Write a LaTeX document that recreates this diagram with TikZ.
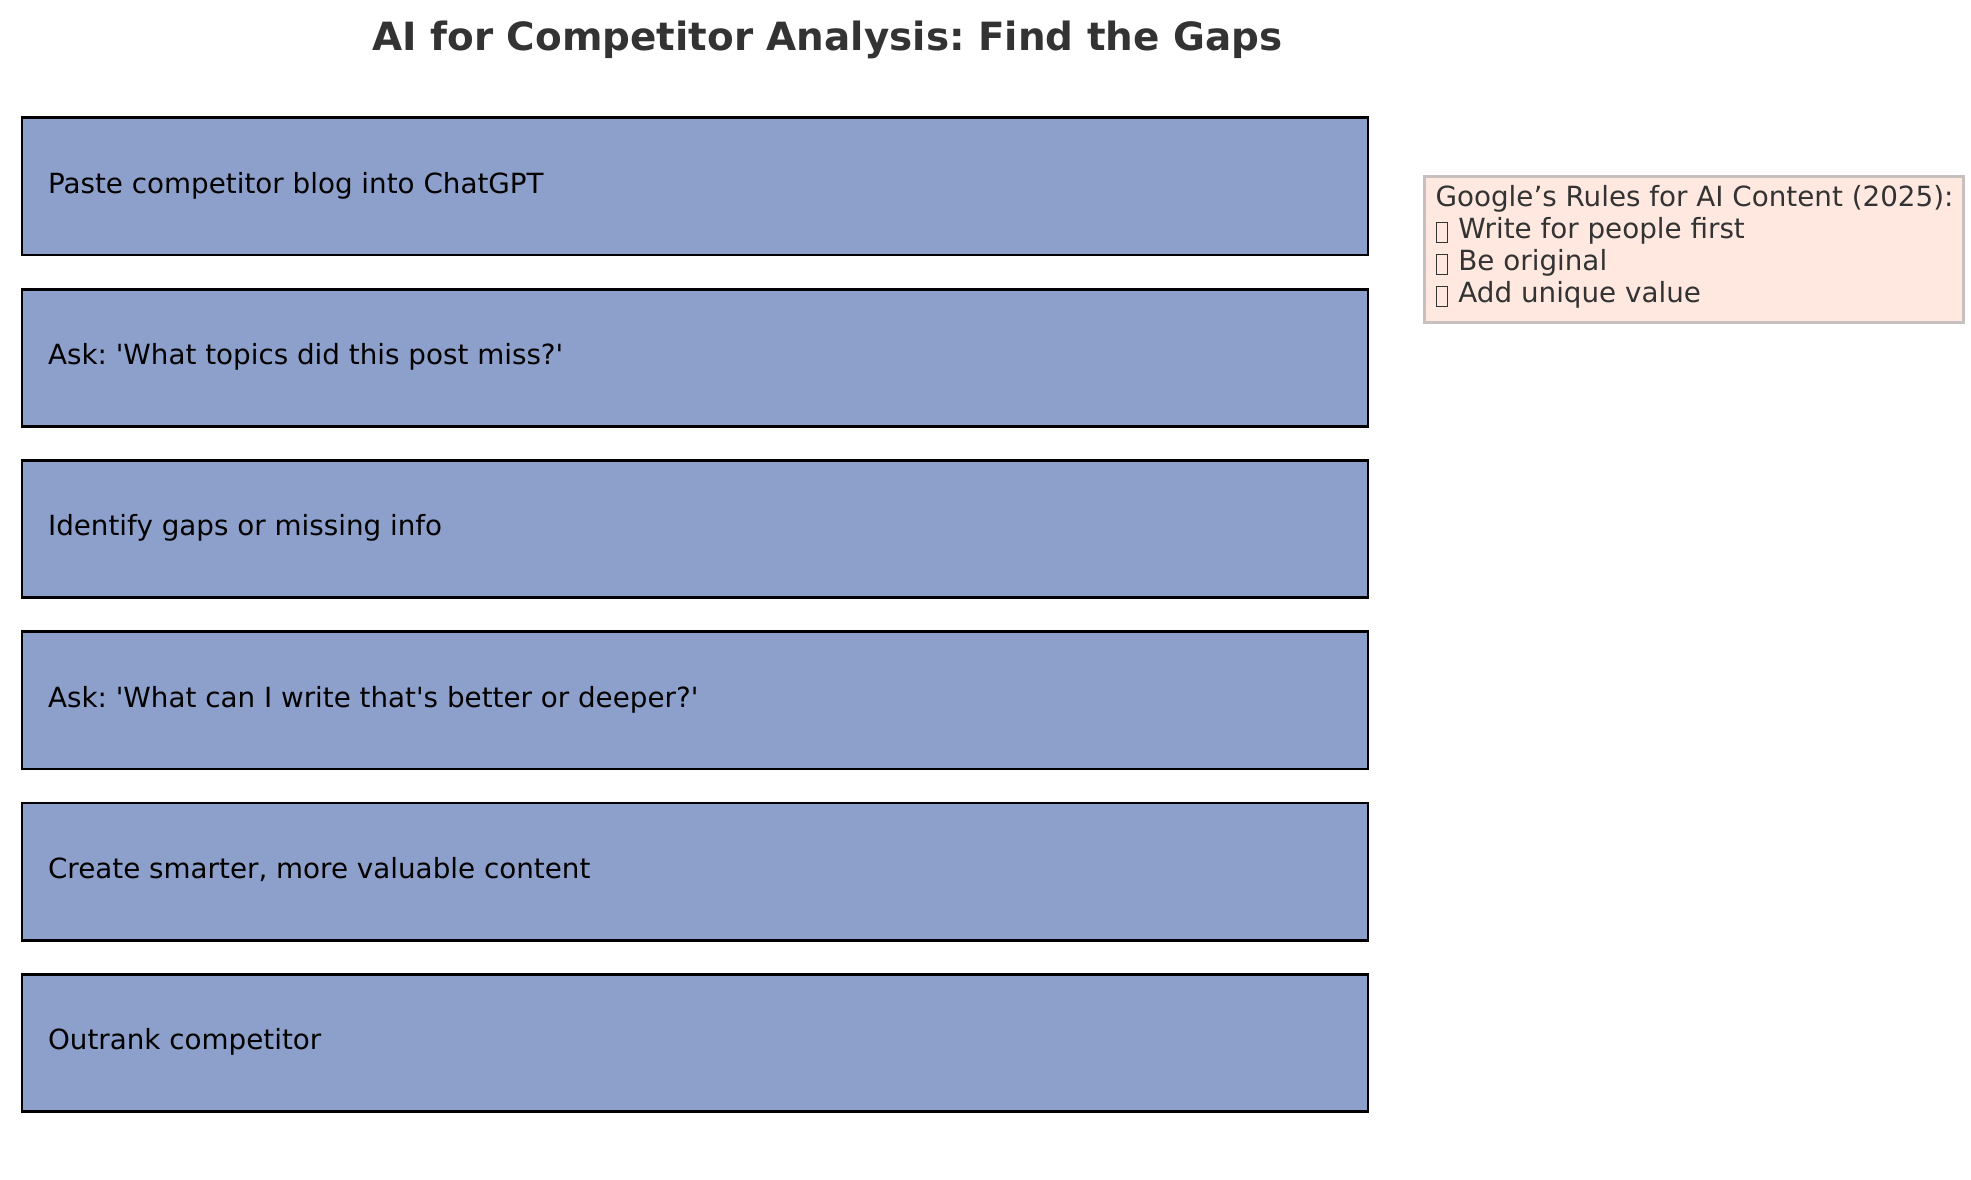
\documentclass[tikz,border=0pt]{standalone}
\usepackage{fontspec}
\setmainfont{DejaVu Sans}[Ligatures=TeXOff]
\frenchspacing
\definecolor{stepfill}{HTML}{8DA0CB}
\definecolor{notefill}{HTML}{FFE8E0}
\definecolor{notedraw}{HTML}{C8C0BE}
\definecolor{darktext}{HTML}{333333}
\newcommand\tofubox{\kern0.25pt\begingroup\setlength\fboxsep{0pt}\setlength\fboxrule{0.35pt}\raisebox{-1.1pt}{\fbox{\rule{0pt}{6.7pt}\rule{3.6pt}{0pt}}}\endgroup\kern0.5pt}
\begin{document}
\begin{tikzpicture}[x=0.36pt,y=-0.36pt,
  stepbox/.style={draw=black, line width=1pt, fill=stepfill, rectangle,
    minimum width=484.56pt, minimum height=49.4pt, inner sep=0pt, anchor=north west},
  steptext/.style={anchor=base west, inner sep=0pt, font=\fontsize{10}{12}\selectfont, text=black},
  notebox/.style={draw=notedraw, line width=1pt, fill=notefill, rectangle,
    minimum width=194.04pt, minimum height=52.56pt, inner sep=0pt, anchor=north west},
  notetext/.style={anchor=base west, inner sep=0pt, font=\fontsize{10}{12}\selectfont, text=darktext},
  titletext/.style={anchor=base, inner sep=0pt, font=\fontsize{14}{17}\bfseries\selectfont, text=darktext}]
\useasboundingbox[fill=white] (0,0) rectangle (1971,1180);
\node[titletext] (title) at (827.5,50.5) {AI for Competitor Analysis: Find the Gaps};
\foreach \i/\t in {0/{Paste competitor blog into ChatGPT},
                   1/{Ask: 'What topics did this post miss?'},
                   2/{Identify gaps or missing info},
                   3/{Ask: 'What can I write that's better or deeper?'},
                   4/{Create smarter, more valuable content},
                   5/{Outrank competitor}}{
  \pgfmathsetmacro{\top}{116.5+171.3*\i}
  \node[stepbox] (box\i) at (20.5,\top) {};
  \node[steptext] (txt\i) at (47.5,\top+76.8) {\t};
}
\node[notebox] (note) at (1423,175) {};
\node[notetext] (n1) at (1435,206.6) {Google’s Rules for AI Content (2025):};
\node[notetext] (n2) at (1435,238.7) {\tofubox{} Write for people first};
\node[notetext] (n3) at (1435,270.8) {\tofubox{} Be original};
\node[notetext] (n4) at (1435,302.9) {\tofubox{} Add unique value};
\end{tikzpicture}
\end{document}
